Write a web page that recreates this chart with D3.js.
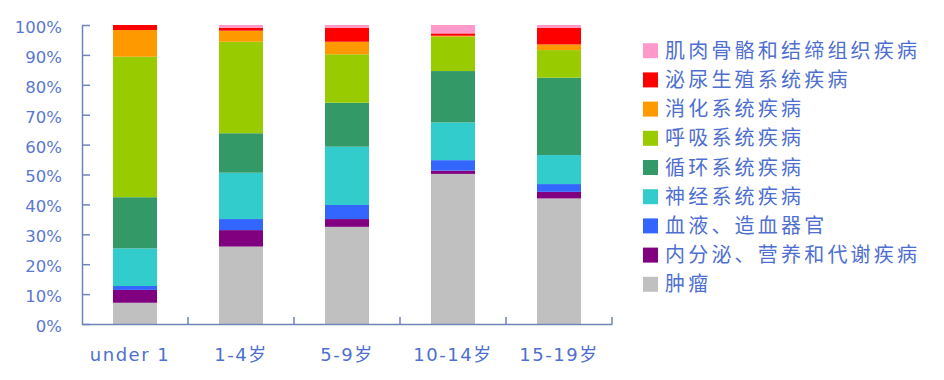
<!DOCTYPE html>
<html>
<head>
<meta charset="utf-8">
<script src="https://cdn.jsdelivr.net/npm/d3@7/dist/d3.min.js"></script>
<style>
html,body{margin:0;padding:0;background:#fff;}
svg{display:block;}
</style>
</head>
<body>
<svg id="chart" width="944" height="380"></svg>
<script>
const categories = ["under 1", "1-4岁", "5-9岁", "10-14岁", "15-19岁"];
// series in stacking order (bottom to top)
const seriesNames = ["肿瘤", "内分泌、营养和代谢疾病", "血液、造血器官", "神经系统疾病", "循环系统疾病", "呼吸系统疾病", "消化系统疾病", "泌尿生殖系统疾病", "肌肉骨骼和结缔组织疾病"];
const tumor       = [7.1, 25.9, 32.5, 50.2, 42.0];
const endocrine   = [4.3, 5.5, 2.6, 1.1, 2.2];
const blood       = [1.3, 3.7, 4.7, 3.5, 2.6];
const nervous     = [12.6, 15.5, 19.5, 12.6, 9.7];
const circulatory = [17.1, 13.2, 14.7, 17.2, 25.9];
const respiratory = [47.0, 30.6, 16.2, 11.5, 9.2];
const digestive   = [8.9, 3.7, 4.2, 0.3, 1.9];
const urogenital  = [1.7, 1.0, 4.7, 0.8, 5.6];
const musculo     = [0.0, 0.9, 0.9, 2.8, 0.9];
const yTicks = [0, 10, 20, 30, 40, 50, 60, 70, 80, 90, 100];
const colors = ["#c0c0c0", "#800080", "#3366ff", "#33cccc", "#339966", "#99cc00", "#ff9900", "#ff0000", "#ff99cc"];

(function () {
const seriesValues = [tumor, endocrine, blood, nervous, circulatory, respiratory, digestive, urogenital, musculo];
const rows = categories.map((c, i) => {
  const r = {cat: c};
  seriesNames.forEach((s, j) => r[s] = seriesValues[j][i]);
  return r;
});

const svg = d3.select("#chart");
const textColor = "#4f6fd0";
const axisColor = "#6f84b8";
const mLeft = 82, mRight = 612, mTop = 25, mBottom = 324;

const x = d3.scaleBand().domain(categories).range([mLeft, mRight]).padding(0);
const y = d3.scaleLinear().domain([0, 100]).range([mBottom, mTop]);
const color = d3.scaleOrdinal().domain(seriesNames).range(colors);

const stacked = d3.stack().keys(seriesNames)(rows);
const barW = x.bandwidth() * 0.415;

svg.append("g").selectAll("g").data(stacked).join("g")
  .attr("fill", d => color(d.key))
  .selectAll("rect").data(d => d).join("rect")
  .attr("x", d => x(d.data.cat) + (x.bandwidth() - barW) / 2)
  .attr("width", barW)
  .attr("y", d => y(d[1]))
  .attr("height", d => Math.max(0, y(d[0]) - y(d[1])));

// Y axis
const yAxis = svg.append("g").attr("transform", `translate(${mLeft},0)`)
  .call(d3.axisLeft(y).tickValues(yTicks).tickFormat(d => d + "%").tickSizeInner(-8).tickSizeOuter(0).tickPadding(20));
yAxis.select(".domain").attr("stroke", axisColor).attr("stroke-width", 1.5);
yAxis.selectAll(".tick line").attr("stroke", axisColor).attr("stroke-width", 1.5);
yAxis.selectAll(".tick text").attr("fill", "#5a78d0").attr("font-family", "DejaVu Sans, sans-serif").attr("font-size", 16.5).attr("dy", "0.45em");

// X axis
const xAxis = svg.append("g").attr("transform", `translate(0,${mBottom})`)
  .call(d3.axisBottom(x).tickSize(0).tickPadding(24));
xAxis.select(".domain").attr("stroke", axisColor).attr("stroke-width", 1.5);
xAxis.selectAll(".tick text").attr("fill", textColor).attr("font-family", "DejaVu Sans, 'Noto Sans CJK SC', sans-serif").attr("font-size", 18).attr("letter-spacing", 1.5)
  .attr("dx", (d, i) => i === 0 ? -5 : 0);
// band boundary ticks
svg.append("g").selectAll("line").data(categories).join("line")
  .attr("x1", d => x(d) + x.bandwidth()).attr("x2", d => x(d) + x.bandwidth())
  .attr("y1", mBottom).attr("y2", mBottom - 7)
  .attr("stroke", axisColor).attr("stroke-width", 1.5);

// Legend
const legendOrder = seriesNames.slice().reverse();
const lg = svg.append("g").selectAll("g").data(legendOrder).join("g")
  .attr("transform", (d, i) => `translate(643,${50.7 + i * 29.2})`);
lg.append("rect").attr("x", 0).attr("y", -7.5).attr("width", 15).attr("height", 15).attr("fill", d => color(d));
lg.append("text").attr("x", 22).attr("y", 7).text(d => d)
  .attr("fill", textColor).attr("font-family", "'Noto Sans CJK SC', sans-serif").attr("font-size", 20).attr("letter-spacing", 3.2);
})();
</script>
</body>
</html>
